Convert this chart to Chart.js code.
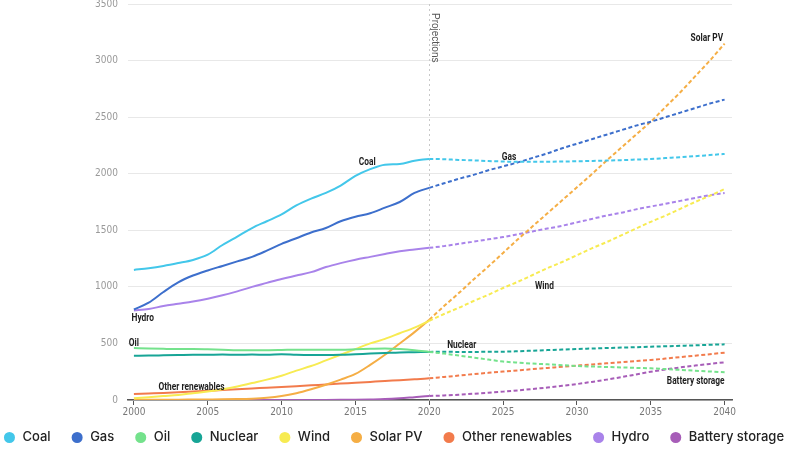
<!DOCTYPE html>
<html>
    <head>
        <meta charset="utf-8">
        <title>Electricity generation by source, 2000-2040</title>
        <script src="https://cdn.jsdelivr.net/npm/chart.js@4.4.1/dist/chart.umd.min.js"></script>
        <style>
            html, body { margin: 0; padding: 0; background: #fff; }
            #wrap { width: 787px; height: 461px; }
        </style>
    </head>
    <body>
        <div id="wrap"><canvas id="chart"></canvas></div>
        <script>
// years on the x axis, 2000-2020 actual, 2020-2040 projections
const years = [2000, 2001, 2002, 2003, 2004, 2005, 2006, 2007, 2008, 2009, 2010,
               2011, 2012, 2013, 2014, 2015, 2016, 2017, 2018, 2019, 2020,
               2021, 2022, 2023, 2024, 2025, 2026, 2027, 2028, 2029, 2030,
               2031, 2032, 2033, 2034, 2035, 2036, 2037, 2038, 2039, 2040];

const coal = [1150, 1165, 1185, 1210, 1238, 1285, 1370, 1445, 1520, 1580, 1640,
              1720, 1780, 1830, 1895, 1980, 2040, 2080, 2085, 2115, 2130,
              2128, 2122, 2118, 2112, 2108, 2105, 2105, 2106, 2108, 2110,
              2113, 2116, 2120, 2125, 2130, 2138, 2146, 2155, 2165, 2175];
const gas = [800, 860, 955, 1040, 1100, 1145, 1185, 1225, 1265, 1320, 1380,
             1430, 1480, 1520, 1580, 1620, 1650, 1700, 1750, 1830, 1875,
             1915, 1955, 1990, 2030, 2065, 2100, 2140, 2180, 2225, 2265,
             2305, 2345, 2385, 2425, 2460, 2500, 2540, 2580, 2620, 2655];
const oil = [460, 455, 452, 450, 450, 448, 445, 440, 440, 440, 442,
             445, 445, 445, 445, 448, 452, 455, 450, 440, 425,
             410, 393, 375, 357, 340, 330, 322, 315, 308, 300,
             296, 292, 288, 284, 280, 273, 266, 259, 252, 245];
const nuclear = [390, 393, 395, 397, 399, 400, 402, 400, 402, 400, 405,
                 400, 398, 398, 400, 405, 410, 415, 420, 422, 425,
                 426, 425, 425, 426, 427, 431, 436, 441, 446, 451,
                 455, 459, 463, 467, 471, 475, 479, 483, 488, 492];
const wind = [15, 25, 35, 45, 60, 75, 95, 120, 150, 180, 215,
              260, 300, 350, 400, 450, 500, 540, 590, 640, 700,
              760, 815, 875, 930, 990, 1045, 1105, 1165, 1220, 1280,
              1340, 1395, 1455, 1515, 1575, 1630, 1690, 1750, 1805, 1865];
const solar = [2, 2, 3, 3, 4, 5, 6, 8, 12, 20, 35,
               60, 95, 135, 180, 230, 310, 400, 500, 600, 710,
               830, 945, 1065, 1180, 1300, 1420, 1535, 1650, 1765, 1880,
               1995, 2115, 2230, 2345, 2460, 2590, 2720, 2860, 3000, 3150];
const otherRenewables = [52, 57, 62, 68, 75, 82, 88, 95, 102, 108, 115,
                         122, 130, 137, 145, 152, 160, 168, 175, 183, 192,
                         204, 216, 229, 240, 251, 262, 273, 283, 294, 304,
                         314, 324, 334, 344, 354, 366, 379, 392, 405, 418];
const hydro = [790, 805, 830, 850, 870, 895, 925, 960, 1000, 1035, 1070,
               1100, 1130, 1175, 1210, 1240, 1265, 1290, 1315, 1330, 1345,
               1360, 1380, 1400, 1420, 1440, 1465, 1490, 1515, 1540, 1570,
               1600, 1630, 1655, 1685, 1710, 1735, 1760, 1785, 1810, 1830];
const battery = [0, 0, 0, 0, 0, 0, 0, 0, 0, 0, 0,
                 0, 0, 1, 2, 3, 5, 8, 15, 25, 35,
                 40, 47, 55, 64, 74, 85, 97, 110, 125, 141,
                 160, 180, 202, 226, 250, 270, 288, 304, 319, 333];

const yTicks = [0, 500, 1000, 1500, 2000, 2500, 3000, 3500];
const xTicks = [2000, 2005, 2010, 2015, 2020, 2025, 2030, 2035, 2040];
const projectionStart = 2020;

const series = [
    { label: 'Coal', data: coal, color: '#43c7ea' },
    { label: 'Gas', data: gas, color: '#3d6fcc' },
    { label: 'Oil', data: oil, color: '#74e28c' },
    { label: 'Nuclear', data: nuclear, color: '#17a596' },
    { label: 'Wind', data: wind, color: '#f7eb52' },
    { label: 'Solar PV', data: solar, color: '#f5ae45' },
    { label: 'Other renewables', data: otherRenewables, color: '#f27b4c' },
    { label: 'Hydro', data: hydro, color: '#a983ea' },
    { label: 'Battery storage', data: battery, color: '#a75db8' }
];

// in-chart labels, placed in data coordinates
const lineLabels = [
    { text: 'Coal', x: 2015.8, y: 2104, align: 'center' },
    { text: 'Gas', x: 2025.4, y: 2149, align: 'center' },
    { text: 'Solar PV', x: 2039.9, y: 3201, align: 'right' },
    { text: 'Wind', x: 2027.8, y: 1008, align: 'center' },
    { text: 'Nuclear', x: 2022.2, y: 482, align: 'center' },
    { text: 'Hydro', x: 2000.6, y: 725, align: 'center' },
    { text: 'Oil', x: 2000, y: 504, align: 'center' },
    { text: 'Other renewables', x: 2003.9, y: 115, align: 'center' },
    { text: 'Battery storage', x: 2040, y: 164, align: 'right' }
];

const narrow = 0.76;     // squeeze for the condensed label face
const legendSlack = 60;  // extra room so the legend stays on one row
const legendHeight = 35;
const legendShift = -9;

const overlay = {
    id: 'overlay',
    beforeLayout(chart) {
        // one-row legend with wide spacing, a bit tighter vertically
        const lg = chart.legend;
        if (lg && !lg._wide) {
            const fit = lg.fit.bind(lg);
            const draw = lg.draw.bind(lg);
            lg.fit = function () {
                const mw = this.maxWidth;
                this.maxWidth = mw + legendSlack;
                fit();
                this.maxWidth = mw;
                this.width = Math.min(this.width, mw);
                this.height = legendHeight;
            };
            lg.draw = function () {
                const l = this.left, r = this.right, t = this.top;
                this.left = l - legendSlack / 2;
                this.right = r + legendSlack / 2;
                this.top = t + legendShift;
                draw();
                this.left = l;
                this.right = r;
                this.top = t;
            };
            lg._wide = true;
        }
    },
    beforeDatasetsDraw(chart) {
        const { ctx, chartArea, scales: { x } } = chart;
        const px = Math.round(x.getPixelForValue(projectionStart)) + 0.5;
        ctx.save();
        ctx.strokeStyle = '#c8c8c8';
        ctx.lineWidth = 1;
        ctx.setLineDash([2, 3]);
        ctx.beginPath();
        ctx.moveTo(px, chartArea.top);
        ctx.lineTo(px, chartArea.bottom);
        ctx.stroke();
        ctx.setLineDash([]);
        ctx.translate(px + 5, chartArea.top + 9);
        ctx.rotate(Math.PI / 2);
        ctx.fillStyle = '#555';
        ctx.font = '10px "Liberation Sans", Arial, sans-serif';
        ctx.textAlign = 'left';
        ctx.textBaseline = 'middle';
        ctx.fillText('Projections', 0, 0);
        ctx.restore();
    },
    afterDatasetsDraw(chart) {
        const { ctx, scales: { x, y } } = chart;
        ctx.save();
        ctx.fillStyle = '#1e1e1e';
        ctx.font = 'bold 11px Roboto, "Liberation Sans", sans-serif';
        ctx.textBaseline = 'middle';
        lineLabels.forEach(l => {
            ctx.save();
            ctx.translate(x.getPixelForValue(l.x), y.getPixelForValue(l.y));
            ctx.scale(narrow, 1);
            ctx.textAlign = l.align;
            ctx.fillText(l.text, 0, 0);
            ctx.restore();
        });
        ctx.restore();
    }
};

const tickFont = { family: '"DejaVu Sans Condensed", "Liberation Sans", sans-serif', size: 10 };

const ctx = document.getElementById('chart').getContext('2d');
new Chart(ctx, {
    type: 'line',
    data: {
        datasets: series.map(s => ({
            label: s.label,
            data: years.map((yr, i) => ({ x: yr, y: s.data[i] })),
            borderColor: s.color,
            backgroundColor: s.color,
            borderWidth: 2,
            pointRadius: 0,
            pointHoverRadius: 0,
            fill: false,
            cubicInterpolationMode: 'monotone',
            segment: {
                borderDash: c => c.p0.parsed.x >= projectionStart ? [4, 2.5] : undefined
            }
        }))
    },
    options: {
        responsive: true,
        maintainAspectRatio: false,
        animation: false,
        events: [],
        layout: { padding: { top: 4, right: 0, left: 0, bottom: 6 } },
        scales: {
            x: {
                type: 'linear',
                min: 1999.6,
                max: 2040.5,
                afterBuildTicks: s => { s.ticks = xTicks.map(v => ({ value: v })); },
                afterFit: s => { s.height = 20; s.paddingLeft = 0; s.paddingRight = 0; },
                grid: {
                    drawOnChartArea: false,
                    drawTicks: true,
                    tickLength: 5,
                    color: '#555'
                },
                border: { display: true, color: '#555', width: 1.5 },
                ticks: {
                    color: '#777',
                    padding: 1,
                    maxRotation: 0,
                    font: tickFont,
                    callback: v => String(v)
                }
            },
            y: {
                min: 0,
                max: 3500,
                afterBuildTicks: s => { s.ticks = yTicks.map(v => ({ value: v })); },
                afterFit: s => { s.width = 128; s.paddingTop = 0; s.paddingBottom = 0; },
                grid: { color: '#e8e8e8', drawTicks: false },
                border: { display: false },
                ticks: {
                    color: '#999',
                    padding: 10,
                    font: tickFont,
                    callback: v => String(v)
                }
            },
            // empty axis that only reserves the right margin
            yRight: {
                position: 'right',
                afterFit: s => { s.width = 55; s.paddingTop = 0; s.paddingBottom = 0; },
                grid: { display: false },
                border: { display: false },
                ticks: { display: false }
            }
        },
        plugins: {
            legend: {
                position: 'bottom',
                labels: {
                    usePointStyle: true,
                    pointStyle: 'circle',
                    boxWidth: 13,
                    boxHeight: 6.4,
                    padding: 20,
                    color: '#222',
                    font: { family: 'Inter, "Open Sans", sans-serif', size: 13, weight: '500' }
                }
            },
            tooltip: { enabled: false }
        }
    },
    plugins: [overlay]
});
        </script>
    </body>
</html>
